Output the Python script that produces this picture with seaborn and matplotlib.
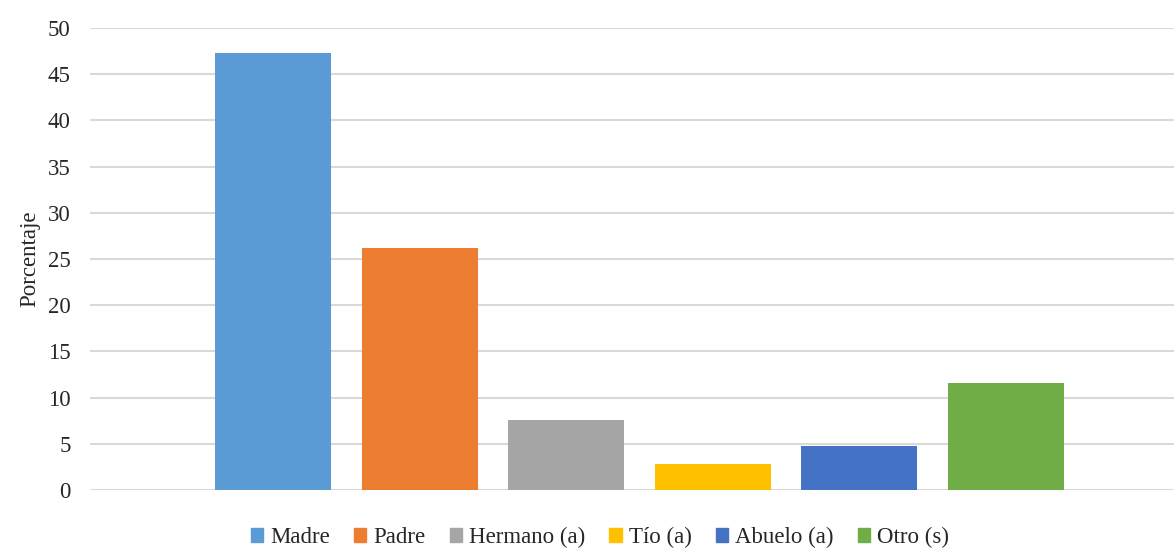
import pandas as pd
import seaborn as sns
import matplotlib.pyplot as plt

# ---------- DATA ----------
categorias = ["Madre", "Padre", "Hermano (a)", "Tío (a)", "Abuelo (a)", "Otro (s)"]
porcentajes = [47.3, 26.2, 7.6, 2.8, 4.8, 11.6]
colores = ["#5B9BD5", "#ED7D31", "#A5A5A5", "#FFC000", "#4472C4", "#70AD47"]

df = pd.DataFrame({"categoria": categorias, "porcentaje": porcentajes})

# ---------- STYLE ----------
sns.set_theme(style="white")
plt.rcParams['font.family'] = ['Liberation Serif', 'DejaVu Serif']

fig = plt.figure(figsize=(11.74, 5.5), dpi=100)
ax = fig.add_axes([0.0767, 0.109, 0.9233, 0.84])

sns.barplot(data=df, x="categoria", y="porcentaje", hue="categoria",
            palette=colores, dodge=False, width=0.79, saturation=1,
            linewidth=0, legend=False, ax=ax, zorder=3)

ax.set_ylim(0, 50)
ax.set_yticks(range(0, 51, 5))
ax.set_xlim(-1.248, 6.146)
ax.set_xticks([])
ax.set_xlabel("")
ax.set_ylabel("Porcentaje", fontsize=16.5, labelpad=5)
ax.tick_params(axis="y", labelsize=16.5, length=0, pad=14)
ax.yaxis.grid(True, color="#d9d9d9", linewidth=1.5, zorder=0)
for s in ax.spines.values():
    s.set_visible(False)

# ---------- LEGEND ----------
handles = [plt.Rectangle((0, 0), 1, 1, color=c) for c in colores]
fig.legend(handles, categorias, loc="lower center", bbox_to_anchor=(0.511, -0.034),
           ncol=6, frameon=False, fontsize=16.5, handlelength=0.55, handleheight=0.55,
           handletextpad=0.3, columnspacing=1.05)

fig.savefig("out.png", dpi=100)
